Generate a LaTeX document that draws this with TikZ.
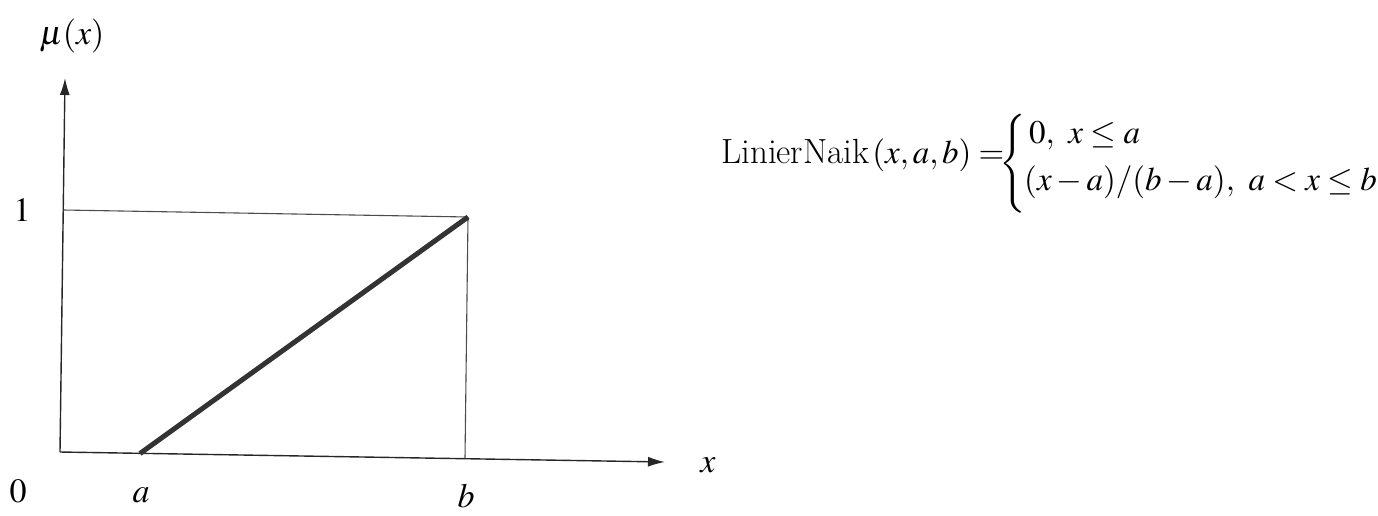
\documentclass[tikz,border=0pt]{standalone}
\usepackage{amsmath}
\usepackage{mathptmx}
\usetikzlibrary{arrows.meta}
\begin{document}
\begin{tikzpicture}[x=1pt,y=-1pt,
  axis/.style={line width=1.4pt,black!85,-{Latex[length=17pt,width=10pt]}},
  thin/.style={line width=1.1pt,black!70},
  thick line/.style={line width=5pt,black!80},
  lbl/.style={font=\fontsize{34}{40}\selectfont,inner sep=0pt},
  fml/.style={font=\fontsize{33}{40}\selectfont,inner sep=0pt}]
\useasboundingbox (0,0) rectangle (1378,515);
\coordinate (O) at (60,452);
\coordinate (Ytip) at (65,78);
\coordinate (Xtip) at (665,462);
\coordinate (T1) at (63.5,210);
\coordinate (B1) at (468,217);
\coordinate (A0) at (140,453.5);
\coordinate (B0) at (465,458);
\draw[axis] (O) -- (Ytip);
\draw[axis] (O) -- (Xtip);
\draw[thin] (T1) -- (B1);
\draw[thin] (B1) -- (B0);
\draw[thick line] (A0) -- (B1);
\node[lbl] (mu) at (72,36) {$\mu(x)$};
\node[lbl] (one) at (22,210) {$1$};
\node[lbl] (zero) at (18,491) {$0$};
\node[lbl] (la) at (141,495) {$a$};
\node[lbl] (lb) at (466,496) {$b$};
\node[lbl] (lx) at (708,465) {$x$};
\node[fml,anchor=base west] (lhs) at (721,163) {{\fontsize{35}{42}\selectfont LinierNaik}\kern3pt$(x,a,b)=$};
\node[fml] (brace) at (1013,164) {$\left\{\rule[-39pt]{0pt}{78pt}\right.$};
\node[fml,anchor=base west] (r1) at (1029,143) {$0,\ x\le a$};
\node[fml,anchor=base west] (r2) at (1024,190) {$(x-a)/(b-a),\ a<x\le b$};
\end{tikzpicture}
\end{document}
